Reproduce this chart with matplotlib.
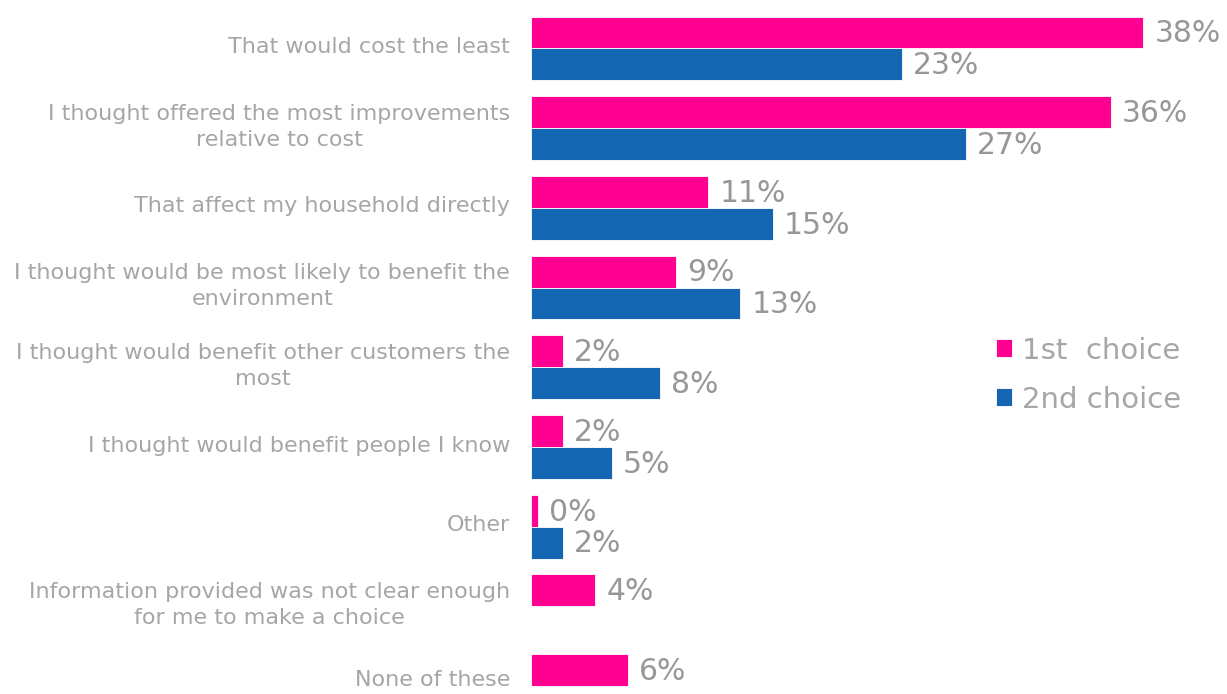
import numpy as np
import matplotlib
matplotlib.use('Agg')
import matplotlib.pyplot as plt

categories = [
    'That would cost the least',
    'I thought offered the most improvements\nrelative to cost',
    'That affect my household directly',
    'I thought would be most likely to benefit the\nenvironment',
    'I thought would benefit other customers the\nmost',
    'I thought would benefit people I know',
    'Other',
    'Information provided was not clear enough\nfor me to make a choice',
    'None of these',
]
first_choice = [38, 36, 11, 9, 2, 2, 0.45, 4, 6]
second_choice = [23, 27, 15, 13, 8, 5, 2, np.nan, np.nan]
series_names = ['1st  choice', '2nd choice']

pink = '#FF0090'
blue = '#1466B2'
label_grey = '#A6A6A6'
value_grey = '#979797'

fig = plt.figure(figsize=(12.27, 6.94), dpi=100)
ax = fig.add_axes([531 / 1227, 0, 696 / 1227, 1])

y = np.arange(len(categories))
h = 0.4
b1 = ax.barh(y - h / 2, first_choice, height=h, color=pink, edgecolor='white',
             linewidth=0.6, label=series_names[0])
b2 = ax.barh(y + h / 2, second_choice, height=h, color=blue, edgecolor='white',
             linewidth=0.6, label=series_names[1])

for bars, vals in [(b1, first_choice), (b2, second_choice)]:
    for rect, v in zip(bars, vals):
        if np.isnan(v):
            continue
        ax.annotate(f'{v:.0f}%', (v, rect.get_y() + rect.get_height() / 2),
                    xytext=(8, -1), textcoords='offset points',
                    ha='left', va='center', fontsize=21.5, color=value_grey)

# category names on the left, last one nudged up so it stays on the canvas
for i, name in enumerate(categories):
    dy = 4 if i == len(categories) - 1 else 1
    ax.annotate(name, (0, i), xycoords=('axes fraction', 'data'),
                xytext=(-15, dy), textcoords='offset points',
                ha='right', va='center', multialignment='center',
                fontsize=16, color=label_grey, linespacing=1.4,
                annotation_clip=False)

ax.set_xlim(0, 43.2)
ax.set_ylim(8.10, -0.608)
ax.set_yticks([])
ax.set_xticks([])
for s in ax.spines.values():
    s.set_visible(False)

leg = fig.legend(handles=[b1, b2], loc='center left',
                 bbox_to_anchor=(970 / 1227, 1 - 375 / 694), frameon=False,
                 fontsize=21, handlelength=0.55, handleheight=0.55,
                 handletextpad=0.35, labelspacing=0.72, labelcolor=label_grey)

fig.savefig('out.png', dpi=100)
